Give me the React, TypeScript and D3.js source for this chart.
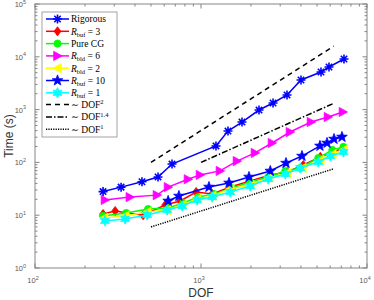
import React from 'react';
import * as d3 from 'd3';

// Series (DOF, time in seconds)
const rigorousDof = [257, 330, 441, 551, 669, 1231, 1454, 1766, 2236, 2716, 3297, 4003, 5283, 5902, 7268];
const rigorousTime = [28, 34, 43, 53, 93, 205, 393, 582, 982, 1334, 1892, 3636, 5152, 6412, 9085];

const rBuf3Dof = [257, 304, 448, 608, 749, 935, 1168, 1500, 1980, 2614, 3311, 4132, 5233, 6269, 7211];
const rBuf3Time = [10.5, 12, 10, 15.6, 18.6, 27.5, 25.2, 34.2, 44.4, 57.7, 65.8, 89.3, 127, 157, 187];

const pureCgDof = [257, 354, 480, 634, 781, 962, 1201, 1542, 1980, 2543, 3221, 3965, 5090, 6182, 7211];
const pureCgTime = [9.7, 11.0, 13.1, 13.7, 17.0, 22.1, 25.2, 32.7, 42.5, 52.9, 68.7, 78.3, 121, 172, 196];

const rBld6Dof = [264, 373, 543, 633, 835, 986, 1301, 1648, 2115, 2677, 3436, 4600, 5823, 7165];
const rBld6Time = [19.4, 22, 24, 34, 48, 58, 69, 106, 151, 233, 376, 582, 724, 901];

const rBld2Dof = [261, 349, 474, 625, 771, 948, 1168, 1500, 1980, 2543, 3311, 4076, 5233, 6182, 7211];
const rBld2Time = [8.9, 9.7, 11.5, 12.5, 15.6, 20.3, 23.1, 31.3, 37.3, 50.7, 63.0, 78.3, 111, 144, 172];

const rBuf10Dof = [634, 736, 1117, 1475, 1946, 2614, 3252, 4058, 5206, 5745, 6329, 7068];
const rBuf10Time = [18.6, 23.1, 34.2, 40.8, 52.9, 68.7, 97, 132, 205, 233, 277, 303];

const rBuf1Dof = [264, 349, 474, 625, 771, 948, 1168, 1500, 1980, 2543, 3221, 3965, 5090, 6012, 7211];
const rBuf1Time = [7.8, 8.5, 10.1, 12.5, 14.9, 19.4, 22.1, 27.5, 35.7, 48.5, 60.3, 78.3, 102, 132, 157];

// reference slopes: endpoints [dof, time]
const dof2Line = [[500, 100], [6300, 15876]];
const dof14Line = [[1000, 100], [6300, 1313]];
const dof1Line = [[500, 6], [6300, 75.6]];

const xDecades = [100, 1000, 10000];
const yDecades = [1, 10, 100, 1000, 10000, 100000];

type Marker = 'asterisk' | 'diamond' | 'circle' | 'triRight' | 'triLeft' | 'pentagram' | 'hexagram';

const series = [
  { key: 'rig', dof: rigorousDof, time: rigorousTime, color: '#0000ff', marker: 'asterisk' as Marker },
  { key: 'buf3', dof: rBuf3Dof, time: rBuf3Time, color: '#ff0000', marker: 'diamond' as Marker },
  { key: 'cg', dof: pureCgDof, time: pureCgTime, color: '#00ff00', marker: 'circle' as Marker },
  { key: 'bld6', dof: rBld6Dof, time: rBld6Time, color: '#ff00ff', marker: 'triRight' as Marker },
  { key: 'bld2', dof: rBld2Dof, time: rBld2Time, color: '#ffff00', marker: 'triLeft' as Marker },
  { key: 'buf10', dof: rBuf10Dof, time: rBuf10Time, color: '#0000ff', marker: 'pentagram' as Marker },
  { key: 'buf1', dof: rBuf1Dof, time: rBuf1Time, color: '#00ffff', marker: 'hexagram' as Marker },
];

function starPath(points: number, outer: number, inner: number) {
  const pts: string[] = [];
  for (let i = 0; i < points * 2; i++) {
    const r = i % 2 === 0 ? outer : inner;
    const a = -Math.PI / 2 + (i * Math.PI) / points;
    pts.push(`${(r * Math.cos(a)).toFixed(2)},${(r * Math.sin(a)).toFixed(2)}`);
  }
  return 'M' + pts.join('L') + 'Z';
}

function MarkerShape({ type, color, cx, cy }: { type: Marker; color: string; cx: number; cy: number }) {
  const t = `translate(${cx},${cy})`;
  if (type === 'asterisk') {
    const r = 4.5, a = 3.2;
    return (
      <path transform={t} d={`M${-r},0L${r},0M0,${-r}L0,${r}M${-a},${-a}L${a},${a}M${-a},${a}L${a},${-a}`}
        stroke={color} strokeWidth={1.6} fill="none" />
    );
  }
  if (type === 'diamond') return <path transform={t} d="M0,-4.6L3.4,0L0,4.6L-3.4,0Z" fill={color} stroke={color} strokeWidth={0.8} />;
  if (type === 'circle') return <circle cx={cx} cy={cy} r={3.6} fill={color} stroke={color} strokeWidth={0.8} />;
  if (type === 'triRight') return <path transform={t} d="M4.6,0L-3.8,-4.6L-3.8,4.6Z" fill={color} stroke={color} strokeWidth={0.8} />;
  if (type === 'triLeft') return <path transform={t} d="M-4.6,0L3.8,-4.6L3.8,4.6Z" fill={color} stroke={color} strokeWidth={0.8} />;
  if (type === 'pentagram') return <path transform={t} d={starPath(5, 5.6, 2.3)} fill={color} stroke={color} strokeWidth={0.8} />;
  return <path transform={t} d={starPath(6, 5.2, 2.8)} fill={color} stroke={color} strokeWidth={0.8} />;
}

const sans = 'Liberation Sans, Arial, sans-serif';
const serif = 'Liberation Serif, DejaVu Serif, serif';

function Pow({ base, exp, x, y, anchor, size }: { base: string; exp: string; x: number; y: number; anchor: string; size: number }) {
  return (
    <text x={x} y={y} textAnchor={anchor} fontSize={size} fill="#5a5a5a" style={{ fontFamily: sans }}>
      {base}
      <tspan fontSize={size * 0.72} dy={-size * 0.45}>{exp}</tspan>
    </text>
  );
}

export default function App() {
  const W = 374, H = 300;
  const x = d3.scaleLog().domain([100, 10000]).range([35, 367]);
  const y = d3.scaleLog().domain([1, 100000]).range([268, 4]);
  const [x0, x1] = x.range();
  const [y0, y1] = y.range();
  const axisColor = '#858585';

  const line = d3.line<[number, number]>().x(d => x(d[0])).y(d => y(d[1]));

  const xMinor: number[] = [];
  [100, 1000].forEach(d => { for (let k = 2; k <= 9; k++) xMinor.push(d * k); });
  const yMinor: number[] = [];
  [1, 10, 100, 1000, 10000].forEach(d => { for (let k = 2; k <= 9; k++) yMinor.push(d * k); });

  const legendItems = [
    { main: 'Rigorous', sub: '', rest: '', color: '#0000ff', marker: 'asterisk' as Marker },
    { main: 'R', sub: 'buf', rest: ' = 3', color: '#ff0000', marker: 'diamond' as Marker },
    { main: 'Pure CG', sub: '', rest: '', color: '#00ff00', marker: 'circle' as Marker },
    { main: 'R', sub: 'bld', rest: ' = 6', color: '#ff00ff', marker: 'triRight' as Marker },
    { main: 'R', sub: 'bld', rest: ' = 2', color: '#ffff00', marker: 'triLeft' as Marker },
    { main: 'R', sub: 'buf', rest: ' = 10', color: '#0000ff', marker: 'pentagram' as Marker },
    { main: 'R', sub: 'buf', rest: ' = 1', color: '#00ffff', marker: 'hexagram' as Marker },
  ];
  const refItems = [
    { exp: '2', dash: '5,4' },
    { exp: '1.4', dash: '6,2,1.5,2' },
    { exp: '1', dash: '1.2,1.2' },
  ];
  const lx0 = 46, lx1 = 69, ltx = 71, ly0 = 19, lstep = 12.3;

  return (
    <svg width={W} height={H} style={{ position: 'absolute', left: 0, top: 0, background: '#fff' }}>
      <rect x={0} y={0} width={W} height={H} fill="#fff" />

      {/* reference slopes */}
      <path d={line(dof2Line as [number, number][]) || ''} stroke="#000" strokeWidth={1.5} strokeDasharray="5,4" fill="none" />
      <path d={line(dof14Line as [number, number][]) || ''} stroke="#000" strokeWidth={1.5} strokeDasharray="6,2,1.5,2" fill="none" />
      <path d={line(dof1Line as [number, number][]) || ''} stroke="#000" strokeWidth={1.5} strokeDasharray="1.2,1.2" fill="none" />

      {series.map(s => {
        const pts = s.dof.map((d, i) => [d, s.time[i]] as [number, number]);
        return (
          <g key={s.key}>
            <path d={line(pts) || ''} stroke={s.color} strokeWidth={1.5} fill="none" />
            {pts.map((p, i) => <MarkerShape key={i} type={s.marker} color={s.color} cx={x(p[0])} cy={y(p[1])} />)}
          </g>
        );
      })}

      {/* axes box and ticks */}
      <rect x={x0} y={y1} width={x1 - x0} height={y0 - y1} fill="none" stroke={axisColor} strokeWidth={1} />
      {xDecades.map(d => (
        <g key={'xd' + d}>
          <line x1={x(d)} x2={x(d)} y1={y0} y2={y0 - 4.5} stroke={axisColor} />
          <line x1={x(d)} x2={x(d)} y1={y1} y2={y1 + 4.5} stroke={axisColor} />
        </g>
      ))}
      {xMinor.map(d => (
        <g key={'xm' + d}>
          <line x1={x(d)} x2={x(d)} y1={y0} y2={y0 - 2.5} stroke={axisColor} />
          <line x1={x(d)} x2={x(d)} y1={y1} y2={y1 + 2.5} stroke={axisColor} />
        </g>
      ))}
      {yDecades.map(d => (
        <g key={'yd' + d}>
          <line x1={x0} x2={x0 + 4.5} y1={y(d)} y2={y(d)} stroke={axisColor} />
          <line x1={x1} x2={x1 - 4.5} y1={y(d)} y2={y(d)} stroke={axisColor} />
        </g>
      ))}
      {yMinor.map(d => (
        <g key={'ym' + d}>
          <line x1={x0} x2={x0 + 2.5} y1={y(d)} y2={y(d)} stroke={axisColor} />
          <line x1={x1} x2={x1 - 2.5} y1={y(d)} y2={y(d)} stroke={axisColor} />
        </g>
      ))}

      {xDecades.map(d => (
        <Pow key={'xl' + d} base="10" exp={String(Math.round(Math.log10(d)))} x={x(d) - 2} y={y0 + 15} anchor="middle" size={7.5} />
      ))}
      {yDecades.map(d => (
        <Pow key={'yl' + d} base="10" exp={String(Math.round(Math.log10(d)))} x={x0 - 9} y={y(d) + 3} anchor="end" size={7.5} />
      ))}

      <text x={(x0 + x1) / 2} y={297} textAnchor="middle" fontSize={12} fill="#333" style={{ fontFamily: sans }}>DOF</text>
      <text transform={`translate(13,${(y0 + y1) / 2}) rotate(-90)`} textAnchor="middle" fontSize={12} fill="#333"
        style={{ fontFamily: sans }}>Time (s)</text>

      {/* legend */}
      <rect x={42} y={12} width={75} height={125} fill="#fff" stroke="#8c8c8c" strokeWidth={0.8} />
      {legendItems.map((it, i) => {
        const ly = ly0 + i * lstep;
        return (
          <g key={'lg' + i}>
            <line x1={lx0} x2={lx1} y1={ly} y2={ly} stroke={it.color} strokeWidth={1.5} />
            <MarkerShape type={it.marker} color={it.color} cx={(lx0 + lx1) / 2} cy={ly} />
            <text x={ltx} y={ly + 3.3} fontSize={9.5} fill="#000" style={{ fontFamily: serif }}>
              {it.sub ? <tspan fontStyle="italic">{it.main}</tspan> : it.main}
              {it.sub ? <tspan fontSize={6.5} dy={2}>{it.sub}</tspan> : null}
              {it.sub ? <tspan dy={-2}>{it.rest}</tspan> : null}
            </text>
          </g>
        );
      })}
      {refItems.map((r, i) => {
        const ly = ly0 + (legendItems.length + i) * lstep - 0.5;
        return (
          <g key={'rf' + i}>
            <line x1={lx0} x2={lx1} y1={ly} y2={ly} stroke="#000" strokeWidth={1.5} strokeDasharray={r.dash} />
            <text x={ltx} y={ly + 3.3} fontSize={9.5} fill="#000" style={{ fontFamily: serif }}>
              {'\u223C DOF'}
              <tspan fontSize={6.5} dy={-3.5}>{r.exp}</tspan>
            </text>
          </g>
        );
      })}
    </svg>
  );
}
